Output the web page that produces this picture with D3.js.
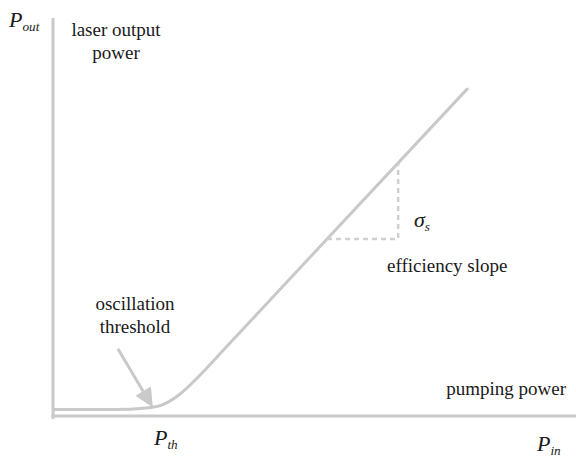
<!DOCTYPE html>
<html>
<head>
<meta charset="utf-8">
<script src="https://cdn.jsdelivr.net/npm/d3@7"></script>
<style>
  body { margin: 0; background: #fff; }
  svg text { font-family: "Liberation Serif", "Times New Roman", "DejaVu Serif", serif; fill: #1a1a1a; }
</style>
</head>
<body>
<svg id="chart" width="576" height="457"></svg>
<script>
// laser characteristic (arbitrary units)
const pumpIn   = [0.02, 0.90, 1.47, 1.66, 1.91, 2.05, 2.20, 2.43, 2.68, 2.95, 3.29, 3.96, 5.24, 7.92];
const laserOut = [0.13, 0.13, 0.137, 0.151, 0.177, 0.21, 0.28, 0.442, 0.683, 0.975, 1.363, 2.115, 3.558, 6.573];

// slope triangle corners
const slopeX = [5.24, 6.60];
const slopeY = [3.558, 5.08];

// threshold arrow: start and tip
const arrowX = [1.24, 1.91];
const arrowY = [1.35, 0.17];

const xDomain = [0, 10];
const yDomain = [0, 8];

const gray = '#c9c9c9';
const serif = '"Liberation Serif", "Times New Roman", "DejaVu Serif", serif';

let svg = d3.select('#chart');

let x = d3.scaleLinear().domain(xDomain).range([53, 576]);
let y = d3.scaleLinear().domain(yDomain).range([416, 18]);

// axes
svg.append('line')
    .attr('x1', x(0)).attr('x2', x(0))
    .attr('y1', y(yDomain[1])).attr('y2', y(0) + 3)
    .attr('stroke', gray).attr('stroke-width', 3);
svg.append('line')
    .attr('x1', x(0) - 1.5).attr('x2', x(xDomain[1]))
    .attr('y1', y(0)).attr('y2', y(0))
    .attr('stroke', gray).attr('stroke-width', 3);

// output curve
let pts = pumpIn.map((d, i) => [d, laserOut[i]]);
let line = d3.line()
    .x(d => x(d[0]))
    .y(d => y(d[1]))
    .curve(d3.curveMonotoneX);

svg.append('path')
    .datum(pts)
    .attr('d', line)
    .attr('fill', 'none')
    .attr('stroke', gray)
    .attr('stroke-width', 3)
    .attr('stroke-linecap', 'round');

// dashed slope triangle
svg.append('path')
    .attr('d', d3.line()([
        [x(slopeX[0]), y(slopeY[0])],
        [x(slopeX[1]), y(slopeY[0])],
        [x(slopeX[1]), y(slopeY[1])]
    ]))
    .attr('fill', 'none')
    .attr('stroke', '#cfcfcf')
    .attr('stroke-width', 2.5)
    .attr('stroke-dasharray', '5,4');

// threshold arrow
let ax0 = x(arrowX[0]), ay0 = y(arrowY[0]);
let ax1 = x(arrowX[1]), ay1 = y(arrowY[1]);
let len = Math.hypot(ax1 - ax0, ay1 - ay0);
let ux = (ax1 - ax0) / len, uy = (ay1 - ay0) / len;
let headLen = 19, headW = 9;
let bx = ax1 - ux * headLen, by = ay1 - uy * headLen;

svg.append('line')
    .attr('x1', ax0).attr('y1', ay0)
    .attr('x2', bx).attr('y2', by)
    .attr('stroke', gray).attr('stroke-width', 3);
svg.append('polygon')
    .attr('points', [
        [ax1, ay1],
        [bx - uy * headW, by + ux * headW],
        [bx + uy * headW, by - ux * headW]
    ].map(p => p.join(',')).join(' '))
    .attr('fill', gray);

// text labels
function label(tx, ty, txt, anchor) {
    svg.append('text')
        .attr('x', tx).attr('y', ty)
        .attr('text-anchor', anchor || 'middle')
        .attr('font-family', serif)
        .attr('font-size', 19)
        .text(txt);
}
label(116, 36, 'laser output');
label(116, 59, 'power');
label(135, 310, 'oscillation');
label(135, 333, 'threshold');
label(566, 395, 'pumping power', 'end');
label(387, 272, 'efficiency slope', 'start');

// symbols with subscripts
function symbol(tx, ty, main, sub, size) {
    let t = svg.append('text')
        .attr('x', tx).attr('y', ty)
        .attr('font-family', serif)
        .attr('font-style', 'italic')
        .attr('font-size', size);
    t.append('tspan').text(main);
    t.append('tspan')
        .attr('dy', size * 0.16)
        .attr('font-size', size * 0.6)
        .text(sub);
}
symbol(9, 27, 'P', 'out', 22);
symbol(154, 445, 'P', 'th', 22);
symbol(537, 451, 'P', 'in', 22);
symbol(414, 227, 'σ', 's', 22);
</script>
</body>
</html>
